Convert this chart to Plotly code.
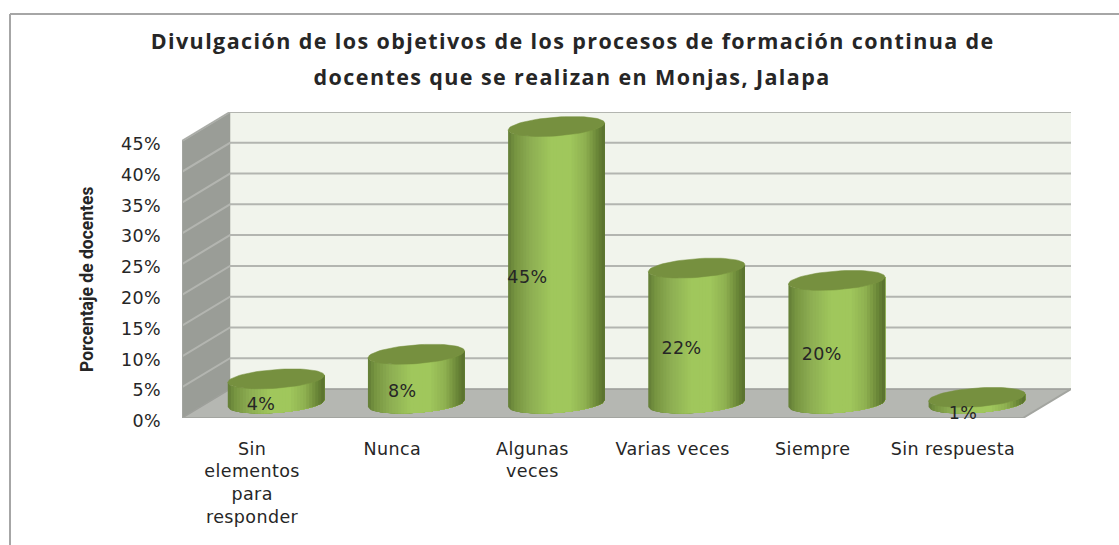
import numpy as np
import plotly.graph_objects as go

categories = ["Sin<br>elementos<br>para<br>responder", "Nunca", "Algunas<br>veces", "Varias veces", "Siempre", "Sin respuesta"]
values = [4, 8, 45, 22, 20, 1]
value_labels = ["4%", "8%", "45%", "22%", "20%", "1%"]
y_ticks = [0, 5, 10, 15, 20, 25, 30, 35, 40, 45]
y_tick_labels = ["0%", "5%", "10%", "15%", "20%", "25%", "30%", "35%", "40%", "45%"]
title_line_1 = "Divulgación de los objetivos de los procesos de formación continua de"
title_line_2 = "docentes que se realizan en Monjas, Jalapa"
y_title = "Porcentaje de docentes"

W, H = 1119, 545
L, R, T, B = 182, 1071, 112, 418
PX_X = 841 / 6           # px per category
PX_Y = 277 / 45          # px per percent
DX = 48 / PX_X           # depth offset in x units
DY = 29 / PX_Y           # depth offset in y units
x_rng = [0, (R - L) / PX_X]
y_rng = [0, (B - T) / PX_Y]

fig = go.Figure()


def poly(xs, ys, color, lw=0.5):
    fig.add_trace(go.Scatter(x=xs, y=ys, mode="lines", fill="toself", fillcolor=color,
                             line=dict(color=color, width=lw), hoverinfo="skip", showlegend=False))


def line(xs, ys, color, width):
    fig.add_trace(go.Scatter(x=xs, y=ys, mode="lines", line=dict(color=color, width=width),
                             hoverinfo="skip", showlegend=False))


ymax = y_ticks[-1]
# walls and floor
poly([DX, x_rng[1], x_rng[1], DX, DX], [DY, DY, DY + ymax, DY + ymax, DY], "#f1f4ec")
poly([0, DX, DX, 0, 0], [0, DY, DY + ymax, ymax, 0], "#9a9d97")
poly([0, 6, x_rng[1], DX, 0], [0, 0, DY, DY, 0], "#b5b7b2")
for v in y_ticks:
    line([0, DX, x_rng[1]], [v, v + DY, v + DY], "#b3b5b0" if v else "#9d9f9a", 2 if v else 1.5)
line([0, DX], [ymax, ymax + DY], "#a8aaa5", 1)
line([0, 6, x_rng[1]], [0, 0, DY], "#a3a5a0", 2)
line([0, 0], [0, ymax], "#a3a5a0", 2)

# cylinders, shaded with vertical strips
a_px, b_px, c_px = 45.4, 16.5, 10.0
phi = np.arctan2(b_px, a_px)
R_px = np.hypot(a_px, b_px)
centers = np.arange(len(values)) + 0.5 + DX / 2
base_y = DY / 2
N = 32


def shade(u):
    stops_u = [-1.0, -0.86, -0.55, -0.1, 0.28, 0.6, 0.86, 1.0]
    cols = np.array([[98, 124, 54], [118, 148, 64], [140, 173, 82], [160, 199, 92],
                     [160, 199, 92], [142, 176, 80], [104, 132, 54], [88, 112, 46]], float)
    rgb = [np.interp(u, stops_u, cols[:, i]) for i in range(3)]
    return "rgb(%d,%d,%d)" % tuple(int(round(c)) for c in rgb)


def lower(u):
    t = phi - np.arccos(u)
    return R_px * np.cos(t - phi) / PX_X, c_px * np.sin(t) / PX_Y


# each strip reaches to the right edge of the cylinder, so later strips paint over earlier ones with no seams
edges = np.linspace(-1, 1, N + 1)
arc_u = np.linspace(-1, 1, 41)
for k in range(N):
    u1 = edges[k]
    us = arc_u[arc_u >= u1]
    us = np.concatenate([[u1], us])
    xs, ys = [], []
    for cx, v in zip(centers, values):
        ax, ay = lower(us)
        xs += list(cx + ax) + list(cx + ax[::-1]) + [cx + ax[0], None]
        ys += list(base_y + ay) + list(base_y + v + ay[::-1]) + [base_y + ay[0], None]
    poly(xs, ys, shade(u1 + 1 / N), lw=0)

tt = np.linspace(0, 2 * np.pi, 73)
ex = (a_px * np.cos(tt) + b_px * np.sin(tt)) / PX_X
ey = c_px * np.sin(tt) / PX_Y
for cx, v in zip(centers, values):
    poly(cx + ex, base_y + v + ey, "#76903f")

TXT = "#262626"
TICK = dict(family="DejaVu Sans", size=17.5, color=TXT)

# value labels, placed relative to each cylinder
label_shift_x = [-15, -14, -29, -15, -15, -14]
fig.add_trace(go.Scatter(
    x=[c + s / PX_X for c, s in zip(centers, label_shift_x)],
    y=[base_y + v / 2 - 14 / PX_Y for v in values],
    mode="text", text=value_labels, textposition="middle center",
    textfont=TICK, hoverinfo="skip", showlegend=False, cliponaxis=False))


def px(x):
    return (x - L) / (R - L)


def py(y):
    return (B - y) / (B - T)


# outer frame
frame = dict(type="line", xref="paper", yref="paper", line=dict(color="#a6a6a6", width=2), layer="below")
shapes = [
    dict(frame, x0=px(10), x1=px(10), y0=py(14), y1=py(545)),
    dict(frame, x0=px(10), x1=px(1119), y0=py(14), y1=py(14)),
]

title_font = dict(family="Open Sans", size=21.5, color=TXT, weight="bold")
annotations = [
    dict(text=title_line_1, x=px(572), y=py(41), xref="paper", yref="paper", showarrow=False,
         xanchor="center", yanchor="middle", font=title_font),
    dict(text=title_line_2, x=px(572), y=py(77), xref="paper", yref="paper", showarrow=False,
         xanchor="center", yanchor="middle", font=title_font),
    dict(text=y_title, x=px(87), y=py(280), xref="paper", yref="paper", showarrow=False, textangle=-90,
         xanchor="center", yanchor="middle",
         font=dict(family="Roboto", size=17.5, color=TXT, weight="bold")),
]

fig.update_layout(
    width=W, height=H, autosize=False,
    margin=dict(l=L, r=W - R, t=T, b=H - B, pad=0),
    paper_bgcolor="white", plot_bgcolor="white",
    showlegend=False, shapes=shapes, annotations=annotations,
    xaxis=dict(range=x_rng, showgrid=False, zeroline=False, showline=False,
               tickmode="array",
               tickvals=[0.5, 1.5, 2.5, 3.5, 4.5, 5.5], ticktext=categories,
               ticks="", ticklabelstandoff=18,
               tickfont=TICK, tickangle=0),
    yaxis=dict(range=y_rng, showgrid=False, zeroline=False, showline=False,
               tickmode="array", tickvals=y_ticks, ticktext=y_tick_labels,
               ticks="", ticklabelstandoff=20, ticklabelshift=3,
               tickfont=TICK),
)

css = (".xtick text,.ytick text,.textpoint text{letter-spacing:0.4px}"
       ".annotation-text{letter-spacing:1.4px}"
       ".annotation[data-index=\"2\"] .annotation-text{letter-spacing:0}")
fig.write_html("out.html", config={"displayModeBar": False},
               post_script="document.body.style.margin='0';"
                           "var s=document.createElement('style');s.textContent='" + css + "';"
                           "document.head.appendChild(s);")
